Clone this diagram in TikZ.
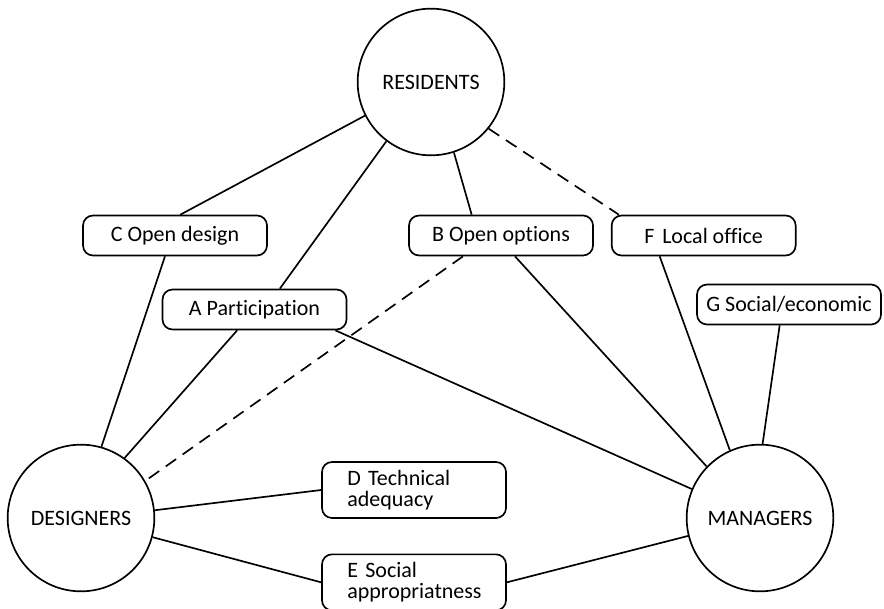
\documentclass[tikz,border=0pt]{standalone}
\usepackage{fontspec}
\setmainfont{Carlito}[Ligatures=NoCommon]
\usetikzlibrary{positioning}

\begin{document}
\begin{tikzpicture}[x=0.75pt,y=-0.75pt,font=\fontsize{16.5pt}{16pt}\selectfont,line width=1.25pt,
  node distance=26pt and 12.75pt,
  actor/.style={draw,circle,minimum size=110pt,inner sep=0pt},
  lbl/.style={draw,rounded corners=7.5pt,minimum width=138pt,minimum height=30pt,align=center},
  lbltwo/.style={lbl,align=left,text width=100pt,inner xsep=18pt,minimum height=42pt},
  weak/.style={dash pattern=on 9.5pt off 6pt}]
  \useasboundingbox (0,0) rectangle (884,609);
  \node[actor] (res) at (431,82) {RESIDENTS};
  \node[actor] (des) at (81,518) {DESIGNERS};
  \node[actor] (mgr) at (760,518) {MANAGERS};
  \node[lbl] (desC) at (175,235.5) {C Open design};
  \node[lbl] (optB) at (501,235.5) {B Open options};
  \node[lbl,right=of optB] (offF) {F\hspace{0.35em}Local office};
  \node[lbl] (partA) at (254.5,309.5) {A Participation};
  \node[lbl] (ecoG) at (789,304.5) {G Social/economic};
  \node[lbltwo] (tecD) at (414,490) {D Technical\\adequacy};
  \node[lbltwo,below=of tecD] (socE) {E Social\\appropriatness};
  \draw (res.207)--([xshift=4pt]desC.north); \draw (res.233)--([xshift=19pt]partA.north);
  \draw (res.288)--([xshift=-22pt]optB.north);
  \draw[weak] (res.321)--([xshift=6pt]offF.north west);
  \draw ([xshift=-7.5pt]desC.south)--(des.74); \draw ([xshift=-13pt]partA.south)--(des.54);
  \draw ([xshift=-9pt]partA.south east)--(mgr.157);
  \draw[weak] ([xshift=-28.5pt]optB.south)--(des.30);
  \draw ([xshift=10.5pt]optB.south)--(mgr.136);
  \draw ([xshift=-33pt]offF.south)--(mgr.114); \draw ([xshift=-7pt]ecoG.south)--(mgr.88);
  \draw (des.6)--(tecD.west); \draw (des.-15)--(socE.west); \draw (socE.east)--(mgr.194);
\end{tikzpicture}
\end{document}
